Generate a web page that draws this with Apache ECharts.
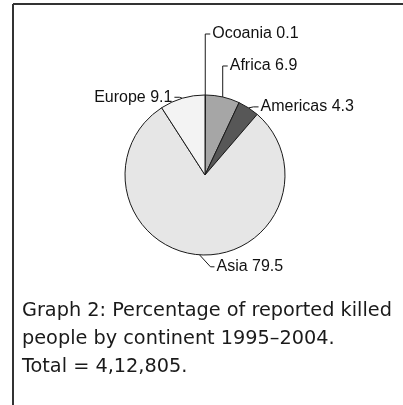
<!DOCTYPE html>
<html>
<head>
<meta charset="utf-8">
<script src="https://cdn.jsdelivr.net/npm/echarts@6/dist/echarts.min.js"></script>
<style>
    html, body { margin: 0; padding: 0; background: #fff; }
    #chart { width: 403px; height: 405px; }
</style>
</head>
<body>
<div id="chart"></div>
<script>
    // data (percent of killed people)
    var continents = ['Ocoania', 'Africa', 'Americas', 'Asia', 'Europe'];
    var shares = [0.1, 6.9, 4.3, 79.5, 9.1];
    var caption = [
        'Graph 2: Percentage of reported killed',
        'people by continent 1995\u20132004.',
        'Total = 4,12,805.'
    ];

    var sliceColors = ['#ffffff', '#a6a6a6', '#575757', '#e6e6e6', '#f3f3f3'];
    // leader line shape per slice: [dx of elbow, dy of elbow, dx of end, side]
    var leaders = [
        [0, -61, 5, 1],
        [0, -31, 5, 1],
        [5, -1, 10, 1],
        [11, 12, 15, 1],
        [-3, -1, -8, -1]
    ];

    var chart = echarts.init(document.getElementById('chart'));

    var pieData = continents.map(function (name, i) {
        return { name: name, value: shares[i], itemStyle: { color: sliceColors[i] } };
    });

    var option = {
        animation: false,
        title: {
            text: caption.join('\n'),
            left: 22,
            top: 297,
            padding: 0,
            textStyle: {
                fontFamily: 'DejaVu Sans',
                fontSize: 19.3,
                fontWeight: 'normal',
                lineHeight: 28,
                color: '#1a1a1a'
            }
        },
        graphic: [
            { type: 'line', shape: { x1: 13, y1: 4, x2: 403, y2: 4 }, style: { stroke: '#333', lineWidth: 2 } },
            { type: 'line', shape: { x1: 13, y1: 4, x2: 13, y2: 405 }, style: { stroke: '#333', lineWidth: 2 } }
        ],
        series: [
            {
                type: 'pie',
                center: [205, 175],
                radius: 80,
                startAngle: 90,
                clockwise: true,
                avoidLabelOverlap: false,
                silent: true,
                data: pieData,
                itemStyle: { borderColor: '#1a1a1a', borderWidth: 1 },
                label: {
                    show: true,
                    position: 'outside',
                    formatter: '{b} {c}',
                    fontFamily: 'Liberation Sans',
                    fontSize: 16,
                    color: '#111'
                },
                labelLine: {
                    show: true,
                    length: 10,
                    length2: 5,
                    lineStyle: { color: '#1a1a1a', width: 1 }
                },
                labelLayout: function (p) {
                    var e = p.labelLinePoints[0];
                    var l = leaders[p.dataIndex];
                    var elbow = [e[0] + l[0], e[1] + l[1]];
                    var end = [e[0] + l[2], e[1] + l[1]];
                    return {
                        x: end[0] + 2 * l[3],
                        y: end[1],
                        align: l[3] > 0 ? 'left' : 'right',
                        verticalAlign: 'middle',
                        labelLinePoints: [e, elbow, end]
                    };
                }
            }
        ]
    };

    chart.setOption(option);
</script>
</body>
</html>
